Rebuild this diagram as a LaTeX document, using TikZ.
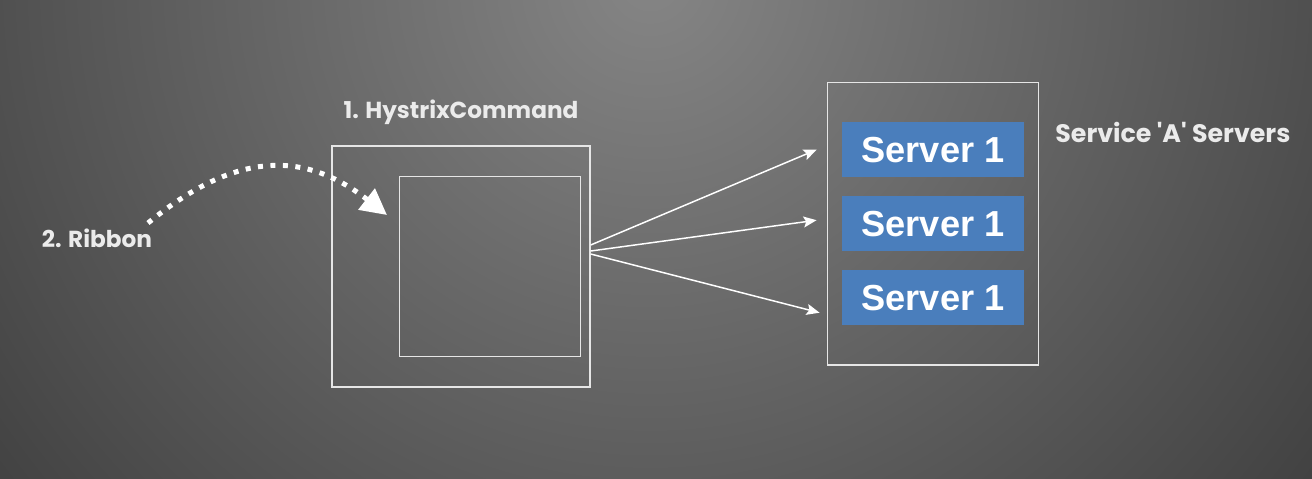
\documentclass[tikz,border=0pt]{standalone}
\usepackage{fontspec}
\setmainfont{Poppins}
\newfontfamily\srvfont{Liberation Sans}
\usetikzlibrary{arrows.meta, positioning, calc}
\definecolor{bginner}{HTML}{858585}
\definecolor{bgouter}{HTML}{383838}
\definecolor{framegray}{HTML}{E6E6E6}
\definecolor{serverblue}{HTML}{4A7EBC}
\tikzset{
  framebox/.style={draw=framegray, line width=0.8pt, inner sep=0pt},
  serverbox/.style={fill=serverblue, minimum width=3.64cm, minimum height=1.09cm,
                    inner sep=0pt, text=white, font=\srvfont\bfseries\fontsize{20.6}{23}\selectfont},
  toplabel/.style={text=white!92!black, font=\bfseries\fontsize{13.2}{15}\selectfont, inner sep=0pt},
  callarrow/.style={-{Stealth[length=0.26cm, width=0.22cm, inset=0.05cm]}, white, line width=0.85pt},
  ribbonarrow/.style={-{Triangle[length=0.52cm, width=0.52cm]}, white, line width=0.1cm,
                      dash pattern=on 0.1cm off 0.15cm},
}
\begin{document}
\begin{tikzpicture}[x=0.02cm, y=-0.02cm]
  % background
  \useasboundingbox (0,0) rectangle (1312,478);
  \begin{scope}
    \clip (0,0) rectangle (1312,478);
    \shade[inner color=bginner, outer color=bgouter] (650,-20) circle (19cm);
  \end{scope}

  % hystrix command
  \node[framebox, minimum width=5.16cm, minimum height=4.82cm] (cmd) at (461,266.5) {};
  \node[framebox, minimum width=3.63cm, minimum height=3.6cm] (inner) at (490,266.5) {};
  \node[toplabel] (cmdlabel) at (461,112) {1. HystrixCommand};

  % ribbon
  \node[toplabel] (ribbon) at (97,238) {2. Ribbon};
  \coordinate (rstart) at (148,223);
  \coordinate (rend) at (387,215);
  \draw[ribbonarrow] (rstart) .. controls (237,150) and (305,151) .. (rend);

  % service A
  \node[framebox, minimum width=4.23cm, minimum height=5.65cm] (svc) at (933,223.7) {};
  \node[serverbox] (srv1) at (933,149.7) {Server 1};
  \node[serverbox] (srv2) at (933,223.7) {Server 1};
  \node[serverbox] (srv3) at (933,297.7) {Server 1};
  \node[toplabel, anchor=west, font=\bfseries\fontsize{14.4}{16}\selectfont] (svclabel) at (1055,132)
    {Service \textquotesingle A\textquotesingle{} Servers};

  % calls
  \coordinate (out1) at ([yshift=0.43cm]cmd.east);
  \coordinate (out2) at ([yshift=0.31cm]cmd.east);
  \coordinate (out3) at ([yshift=0.25cm]cmd.east);
  \coordinate (in1) at ([xshift=-0.2cm]srv1.west -| svc.west);
  \coordinate (in2) at ([xshift=-0.2cm, yshift=0.07cm]srv2.west -| svc.west);
  \coordinate (in3) at ([xshift=-0.14cm, yshift=-0.3cm]srv3.west -| svc.west);
  \draw[callarrow] (out1) -- (in1);
  \draw[callarrow] (out2) -- (in2);
  \draw[callarrow] (out3) -- (in3);
\end{tikzpicture}
\end{document}
